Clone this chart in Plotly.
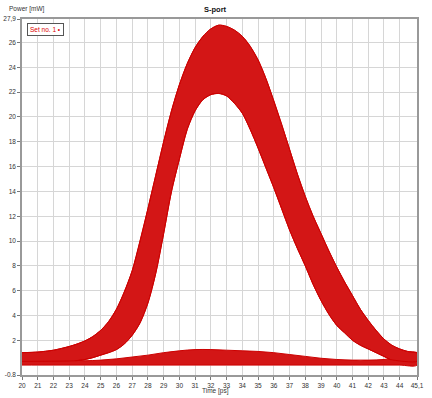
import plotly.graph_objects as go

# ---- data (envelopes of the overlaid S-port traces) ----
# outer (upper/left) envelope of pulse traces
outer_x = [20, 21, 22, 23, 23.5, 24, 24.5, 25, 25.5, 26, 26.5, 27, 27.5, 28, 28.5, 29, 29.5, 30,
           30.5, 31, 31.5, 32, 32.5, 33, 33.5, 34, 34.5, 35, 35.5, 36, 36.5, 37, 37.5, 38, 38.5,
           39, 39.5, 40, 40.5, 41, 41.5, 42, 42.5, 43, 43.5, 44, 44.5, 45.1]
outer_y = [1.0, 1.05, 1.2, 1.5, 1.7, 1.95, 2.3, 2.8, 3.5, 4.5, 5.9, 7.6, 10.0, 12.6, 15.3, 18.0, 20.5, 22.6,
           24.3, 25.6, 26.5, 27.1, 27.4, 27.3, 27.0, 26.5, 25.7, 24.6, 23.1, 21.3, 19.4, 17.4, 15.4, 13.6, 12.0,
           10.6, 9.2, 7.9, 6.7, 5.6, 4.5, 3.6, 2.8, 2.1, 1.6, 1.3, 1.1, 1.0]
# inner (eye-opening side) envelope of pulse traces
inner_x = [23.4, 24, 24.5, 25, 25.5, 26, 26.5, 27, 27.5, 28, 28.5, 29, 29.5, 30, 30.5, 31, 31.5, 32,
           32.5, 33, 33.5, 34, 34.5, 35, 35.5, 36, 36.5, 37, 37.5, 38, 38.5, 39, 39.5, 40, 40.5, 41,
           41.5, 42, 42.5, 43, 43.4]
inner_y = [0.35, 0.45, 0.6, 0.8, 1.0, 1.25, 1.7, 2.4, 3.4, 5.0, 7.4, 10.6, 14.0, 16.6, 19.0, 20.5, 21.4, 21.8,
           21.9, 21.7, 21.1, 20.3, 19.0, 17.5, 15.9, 14.3, 12.6, 10.9, 9.4, 8.0, 6.5, 5.2, 4.1, 3.2, 2.6, 2.0,
           1.6, 1.3, 1.0, 0.7, 0.45]
# baseline ("0" level) traces band
base_x = [20, 21, 22, 23, 24, 25, 26, 27, 28, 29, 30, 31, 32, 33, 34, 35, 36, 37, 38, 39, 40, 41, 42, 43, 44, 45.1]
base_top = [0.55, 0.5, 0.45, 0.4, 0.35, 0.4, 0.5, 0.65, 0.8, 1.0, 1.15, 1.25, 1.25, 1.2, 1.15, 1.1, 1.0, 0.85,
            0.7, 0.55, 0.45, 0.4, 0.4, 0.45, 0.6, 0.7]
base_bot = [0.0, 0.0, 0.0, 0.0, 0.0, 0.0, 0.0, 0.0, 0.0, 0.0, 0.0, 0.0, 0.0, 0.0, 0.0, 0.0, 0.0, 0.0,
            0.0, 0.0, 0.0, 0.0, 0.0, 0.0, 0.0, 0.0]

x_ticks = [20, 21, 22, 23, 24, 25, 26, 27, 28, 29, 30, 31, 32, 33, 34, 35, 36, 37, 38, 39, 40, 41, 42, 43, 44, 45.1]
x_labels = ["20", "21", "22", "23", "24", "25", "26", "27", "28", "29", "30", "31", "32", "33", "34", "35",
            "36", "37", "38", "39", "40", "41", "42", "43", "44", "45,1"]
y_ticks = [-0.8, 2, 4, 6, 8, 10, 12, 14, 16, 18, 20, 22, 24, 26, 27.9]
y_labels = ["-0.8", "2", "4", "6", "8", "10", "12", "14", "16", "18", "20", "22", "24", "26", "27,9"]

RED = "#cc0000"
FILL = "#d31616"

fig = go.Figure()

# baseline band
fig.add_trace(go.Scatter(x=base_x + base_x[::-1], y=base_top + base_bot[::-1], mode="lines",
                         fill="toself", fillcolor=FILL, line=dict(color=RED, width=1, shape="spline"),
                         hoverinfo="skip", showlegend=False))
# pulse band
px = outer_x + [45.1] + inner_x[::-1] + [20]
py = outer_y + [0.3] + inner_y[::-1] + [0.3]
fig.add_trace(go.Scatter(x=px, y=py, mode="lines", fill="toself", fillcolor=FILL,
                         line=dict(color=RED, width=1, shape="spline", smoothing=0.6),
                         hoverinfo="skip", showlegend=False))
# envelope traces as lines
fig.add_trace(go.Scatter(x=outer_x, y=outer_y, mode="lines", line=dict(color=RED, width=1, shape="spline"),
                         hoverinfo="skip", showlegend=False))
fig.add_trace(go.Scatter(x=inner_x, y=inner_y, mode="lines", line=dict(color=RED, width=1, shape="spline"),
                         hoverinfo="skip", showlegend=False))

FONT = "Liberation Sans, Arial, sans-serif"
axis_common = dict(showline=True, mirror=True, linecolor="#999999", linewidth=1.5,
                   showgrid=True, gridcolor="#d6d6d6", gridwidth=1, zeroline=False,
                   ticks="outside", ticklen=3, tickcolor="#777777", automargin=False,
                   tickfont=dict(family=FONT, size=6.5, color="#333333"))

fig.update_layout(
    width=432, height=398,
    margin=dict(l=22, r=15, t=19, b=23, autoexpand=False),
    paper_bgcolor="white", plot_bgcolor="white",
    showlegend=False,
    xaxis=dict(range=[20, 45.1], tickvals=x_ticks, ticktext=x_labels, **axis_common),
    yaxis=dict(range=[-0.8, 27.9], tickvals=y_ticks, ticktext=y_labels, **axis_common),
    annotations=[
        dict(text="Power [mW]", xref="paper", yref="paper", x=-0.038, y=1.028,
             xanchor="left", yanchor="middle", showarrow=False,
             font=dict(family=FONT, size=6.5, color="#333333")),
        dict(text="<b>S-port</b>", xref="paper", yref="paper", x=0.489, y=1.028,
             xanchor="center", yanchor="middle", showarrow=False,
             font=dict(family=FONT, size=7.5, color="#111111")),
        dict(text="Time [ps]", xref="paper", yref="paper", x=0.49, y=-0.044,
             xanchor="center", yanchor="middle", showarrow=False,
             font=dict(family=FONT, size=6.5, color="#333333")),
        dict(text="Set no. 1 \u2022", xref="paper", yref="paper", x=0.013, y=0.988,
             xanchor="left", yanchor="top", showarrow=False, bgcolor="white",
             bordercolor="#555555", borderwidth=1, borderpad=2,
             font=dict(family=FONT, size=6.5, color="#dd0000")),
    ],
)

fig.write_html("out.html", config={"displayModeBar": False},
               post_script="document.body.style.margin='0px';")
